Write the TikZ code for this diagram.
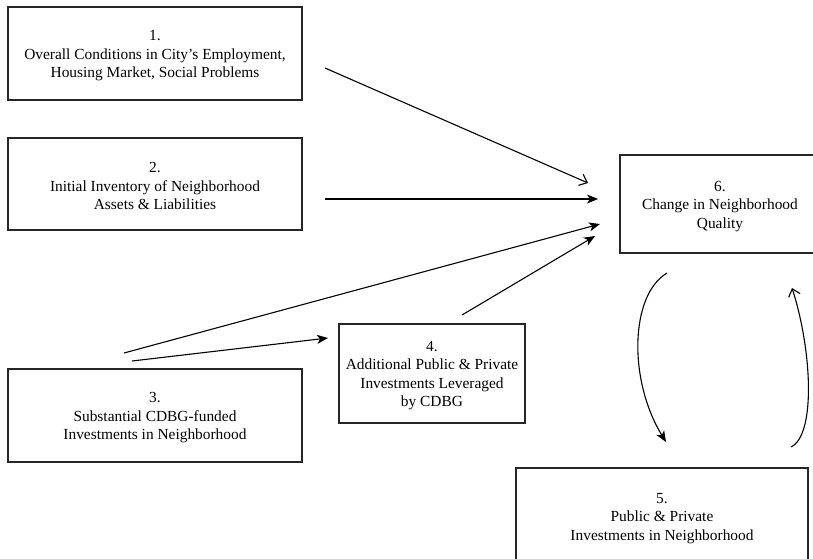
\documentclass[tikz,border=0pt]{standalone}
\usepackage{fontspec}
\setmainfont{Liberation Serif}
\usetikzlibrary{arrows.meta}
\newcommand{\firstline}{\rule{0pt}{14.4pt}}
\begin{document}
\begin{tikzpicture}[x=1pt,y=-1pt,
  boxline/.style={draw=black!85,line width=1.2pt},
  boxtext/.style={align=center,inner sep=0pt,
    font=\fontsize{15.4}{18.5}\selectfont},
  box/.style={boxline,boxtext},
  conn/.style={line width=1.1pt,black},
  filled/.style={conn,-{Stealth[length=11pt,width=9pt,inset=3pt]}},
  openarr/.style={conn,-{Straight Barb[length=7pt,width=12pt]}}]
\useasboundingbox (0,0) rectangle (813,558);
\clip (0,0) rectangle (813,558);
\fill[white] (0,0) rectangle (813,558);
\node[box,minimum width=294pt,minimum height=93pt] (b1) at (155,53.5)
  {\firstline 1.\\Overall Conditions in City’s Employment,\\Housing Market, Social Problems};
\node[box,minimum width=294pt,minimum height=92pt] (b2) at (155,184)
  {\firstline 2.\\Initial Inventory of Neighborhood\\Assets \& Liabilities};
\node[box,minimum width=294pt,minimum height=93pt] (b3) at (155,415.5)
  {\firstline 3.\\Substantial CDBG-funded\\Investments in Neighborhood};
\node[box,minimum width=186pt,minimum height=99pt] (b4) at (432,373.5)
  {\firstline 4.\\Additional Public \& Private\\Investments Leveraged\\by CDBG};
\node[box,minimum width=292pt,minimum height=96pt] (b5) at (662,516)
  {\firstline 5.\\Public \& Private\\Investments in Neighborhood};
\node[boxtext] (b6) at (720,204)
  {\firstline 6.\\Change in Neighborhood\\Quality};
\draw[boxline] (620,155) rectangle (860,253);
% connector end points (free ends, gaps as in the reference)
\coordinate (s1) at (325,68);   \coordinate (t1) at (588,183);
\coordinate (s2) at (325,199);  \coordinate (t2) at (598,199);
\coordinate (s3) at (124,353);  \coordinate (t3) at (600,224);
\coordinate (s34) at (132,361); \coordinate (t34) at (328,338);
\coordinate (s4) at (462,315);  \coordinate (t4) at (595,236);
\coordinate (s65) at (667,273); \coordinate (t65) at (666,442);
\coordinate (s56) at (791,447); \coordinate (t56) at (792,288);
\draw[openarr] (s1) -- (t1);
\draw[filled] (s2) -- (t2);
\draw[filled] (s3) -- (t3);
\draw[filled] (s34) -- (t34);
\draw[filled] (s4) -- (t4);
\draw[filled] (s65) .. controls (630,295) and (628,380) .. (t65);
\draw[openarr] (s56) .. controls (816,435) and (812,350) .. (t56);
\end{tikzpicture}
\end{document}
